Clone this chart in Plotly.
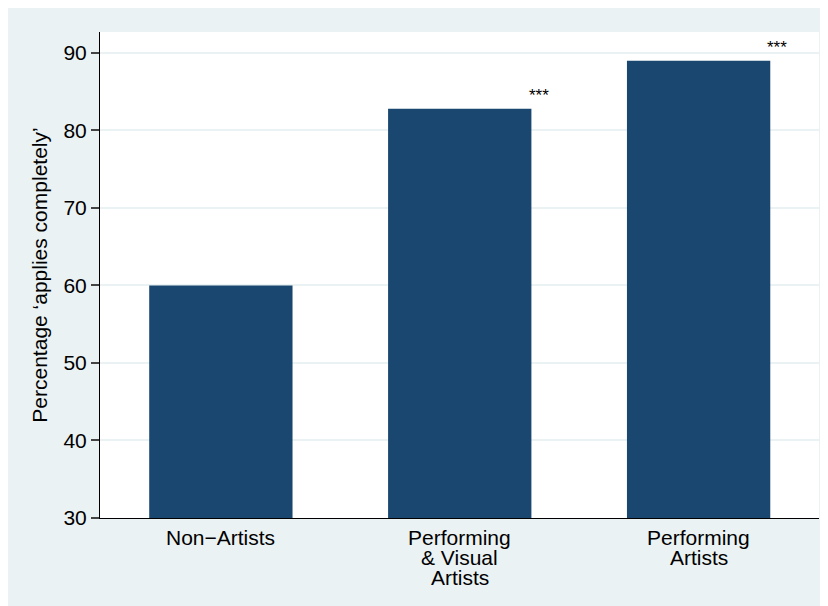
import plotly.graph_objects as go

categories = ["Non\u2212Artists", "Performing<br>& Visual<br>Artists", "Performing<br>Artists"]
values = [60.0, 82.8, 89.0]
significance = ["", "***", "***"]
y_ticks = [30, 40, 50, 60, 70, 80, 90]
y_base = 30

BG = "#eaf2f3"
BAR = "#1a476f"
FONT = "Liberation Sans, Arial, Helvetica, sans-serif"
FS = 21

xs = list(range(len(categories)))

fig = go.Figure()
fig.add_trace(go.Bar(
    x=xs, y=[v - y_base for v in values], base=y_base, width=0.6,
    marker=dict(color=BAR, line=dict(color=BAR, width=0)),
    hoverinfo="skip",
))

for i, (v, s) in enumerate(zip(values, significance)):
    if s:
        fig.add_annotation(x=i + 0.33, y=v, text=s, showarrow=False,
                           yshift=13, font=dict(size=17, color="black", family=FONT))

# category labels, one annotation per line for tight line spacing
for i, lab in enumerate(categories):
    for k, line in enumerate(lab.split("<br>")):
        fig.add_annotation(x=i, y=0, xref="x", yref="paper", text=line,
                           showarrow=False, yanchor="top", yshift=-6 - 20 * k,
                           font=dict(size=FS, color="black", family=FONT))

fig.update_layout(
    width=828, height=606,
    margin=dict(l=92, r=17, t=24, b=96),
    paper_bgcolor=BG, plot_bgcolor="white",
    showlegend=False,
    font=dict(family=FONT, color="black", size=FS),
)
fig.update_xaxes(
    range=[-0.506, 2.504], tickmode="array", tickvals=xs, ticktext=["" for _ in xs],
    showgrid=False, zeroline=False, showline=True, linecolor="black", linewidth=1,
    ticks="",
)
fig.update_yaxes(
    range=[30, 92.7], tickmode="array", tickvals=y_ticks,
    ticktext=[str(t) for t in y_ticks],
    showgrid=True, gridcolor=BG, gridwidth=1.5, zeroline=False,
    showline=True, linecolor="black", linewidth=1,
    ticks="outside", ticklen=8, tickcolor="#444444", tickwidth=1.5,
    tickfont=dict(size=FS, family=FONT, color="black"),
    title=dict(text="Percentage \u2018applies completely\u2019", standoff=10,
               font=dict(size=FS, family=FONT, color="black")),
)

fig.write_html("out.html")
